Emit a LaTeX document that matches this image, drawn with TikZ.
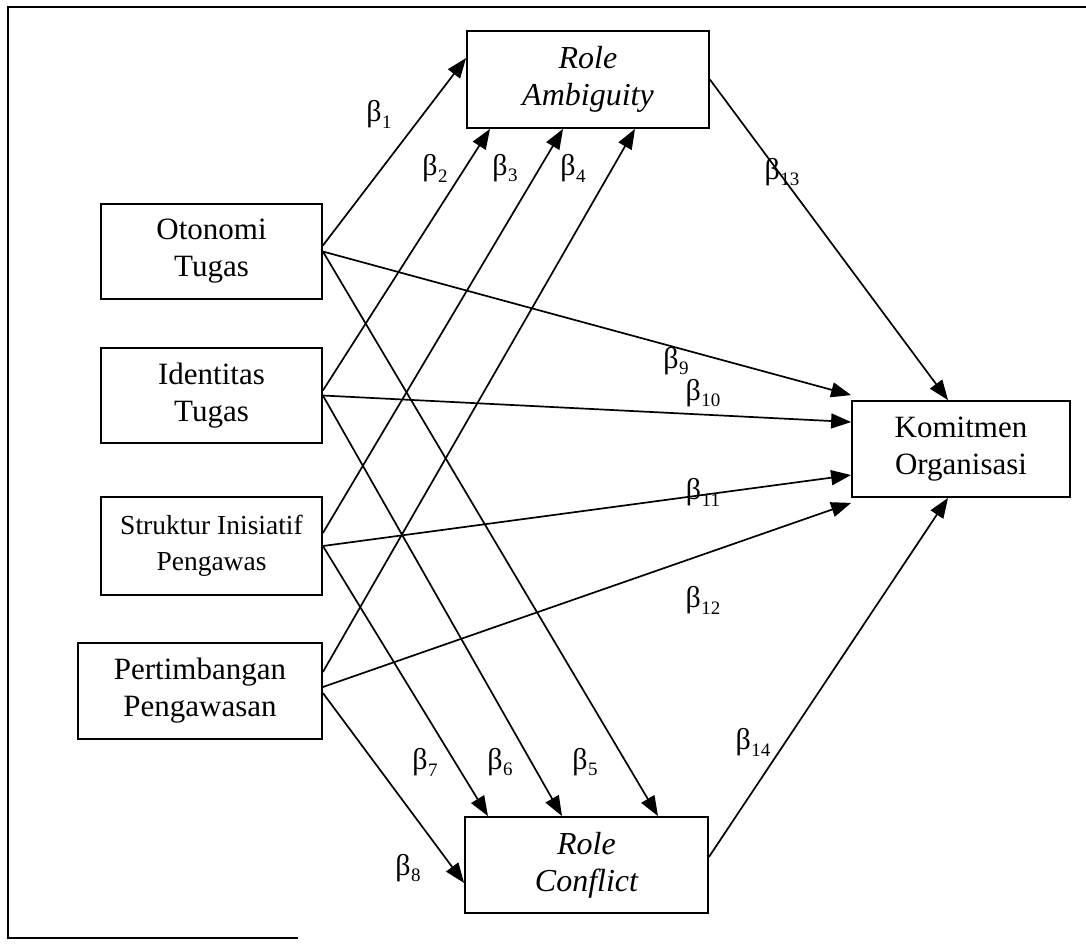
\documentclass[tikz,border=0pt]{standalone}
\usepackage{fontspec}
\setmainfont{Liberation Serif}
\usetikzlibrary{arrows.meta}
\newcommand\betalab[1]{β\kern0.5pt\raisebox{-0.5ex}{\fontsize{19}{19}\selectfont #1}}
\begin{document}
\begin{tikzpicture}[x=1pt,y=-1pt,
  box/.style={draw, line width=1.8pt, inner sep=0pt, align=center,
    font=\fontsize{31}{37}\selectfont},
  conn/.style={line width=1.7pt, -{Triangle[length=20pt,width=15pt]}},
  lab/.style={inner sep=0pt, font=\fontsize{30}{30}\selectfont}]
\useasboundingbox (0,0) rectangle (1086,943);
% frame
\draw[line width=1.8pt] (1086,7) -- (8,7) -- (8,938) -- (298,938);
% boxes
\node[box, minimum width=242pt, minimum height=97pt, font=\fontsize{32}{37}\selectfont\itshape] (ra) at (588,79.5) {Role\\Ambiguity};
\node[box, minimum width=243pt, minimum height=96pt, font=\fontsize{32}{37}\selectfont\itshape] (rc) at (586.5,865) {Role\\Conflict};
\node[box, minimum width=218pt, minimum height=96pt] (kom) at (961,449) {Komitmen\\Organisasi};
\node[box, minimum width=221pt, minimum height=95pt] (oto) at (211.5,251.5) {Otonomi\\Tugas};
\node[box, minimum width=221pt, minimum height=95pt] (ide) at (211.5,395.5) {Identitas\\Tugas};
\node[box, minimum width=221pt, minimum height=98pt, font=\fontsize{27.5}{36}\selectfont] (str) at (211.5,546) {Struktur Inisiatif\\Pengawas};
\node[box, minimum width=244pt, minimum height=96pt] (per) at (200,691) {Pertimbangan\\Pengawasan};
% connectors to Role Ambiguity
\draw[conn] ([yshift=6pt]oto.east) -- ([yshift=21.5pt]ra.west);
\draw[conn] ([yshift=5pt]ide.east) -- ([xshift=-98pt]ra.south);
\draw[conn] ([yshift=13pt]str.east) -- ([xshift=-25pt]ra.south);
\draw[conn] ([yshift=19pt]per.east) -- ([xshift=47pt]ra.south);
% connectors to Role Conflict
\draw[conn] (oto.east) -- ([xshift=71.5pt]rc.north);
\draw[conn] (ide.east) -- ([xshift=-24.5pt]rc.north);
\draw[conn] (str.east) -- ([xshift=-98.5pt]rc.north);
\draw[conn] ([yshift=-2pt]per.east) -- ([yshift=-18pt]rc.west);
% connectors to Komitmen
\draw[conn] (oto.east) -- ([yshift=5pt]kom.north west);
\draw[conn] (ide.east) -- ([yshift=27pt]kom.west);
\draw[conn] (str.east) -- ([yshift=-26pt]kom.west);
\draw[conn] ([yshift=4pt]per.east) -- ([yshift=-5pt]kom.south west);
\draw[conn] (ra.east) -- ([xshift=-13pt]kom.north);
\draw[conn] ([yshift=8pt]rc.east) -- ([xshift=-13pt]kom.south);
% labels
\node[lab] (b1) at (379,114) {\betalab{1}};
\node[lab] (b2) at (435,168) {\betalab{2}};
\node[lab] (b3) at (505,168) {\betalab{3}};
\node[lab] (b4) at (573,168) {\betalab{4}};
\node[lab] (b5) at (585,762) {\betalab{5}};
\node[lab] (b6) at (500,762) {\betalab{6}};
\node[lab] (b7) at (425,762) {\betalab{7}};
\node[lab] (b8) at (408,868) {\betalab{8}};
\node[lab] (b9) at (676,361) {\betalab{9}};
\node[lab] (b10) at (703,393) {\betalab{10}};
\node[lab] (b11) at (703,492) {\betalab{11}};
\node[lab] (b12) at (703,600) {\betalab{12}};
\node[lab] (b13) at (782,172) {\betalab{13}};
\node[lab] (b14) at (753,742) {\betalab{14}};
\end{tikzpicture}
\end{document}
